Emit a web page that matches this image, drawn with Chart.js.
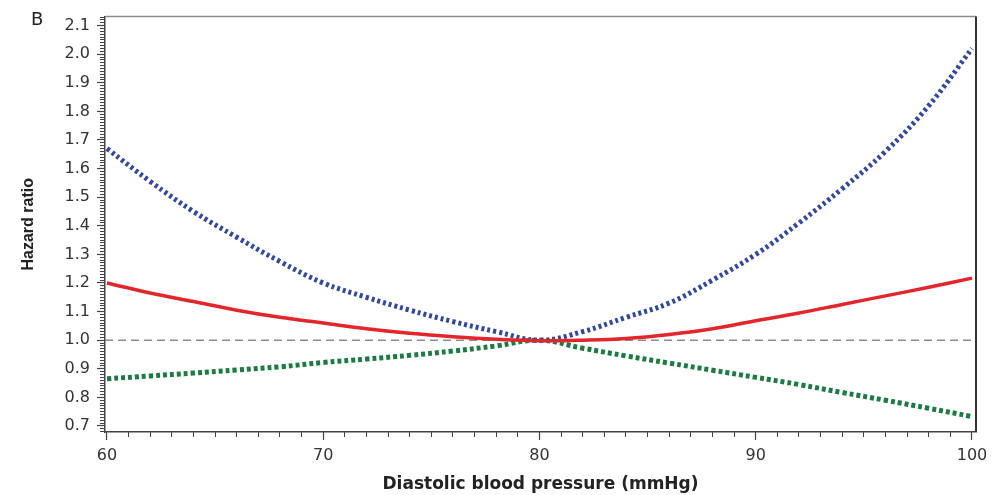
<!DOCTYPE html>
<html>
<head>
<meta charset="utf-8">
<script src="https://cdn.jsdelivr.net/npm/chart.js@4.4.1/dist/chart.umd.min.js"></script>
<style>
  html, body { margin: 0; padding: 0; background: #fff; }
  #wrap { width: 1005px; height: 495px; }
</style>
</head>
<body>
<div id="wrap"><canvas id="hr"></canvas></div>
<script>
// diastolic BP (mmHg) and hazard ratio curves
const bp       = [60, 62, 64, 66, 68, 70, 72, 74, 76, 78, 80, 82, 84, 86, 88, 90, 92, 94, 96, 98, 100];
const hazard   = [1.20, 1.165, 1.135, 1.105, 1.08, 1.06, 1.04, 1.024, 1.012, 1.003, 0.998, 1.0, 1.006, 1.02, 1.04, 1.068, 1.095, 1.125, 1.155, 1.185, 1.217];
const upperCI  = [1.67, 1.555, 1.45, 1.36, 1.275, 1.20, 1.15, 1.105, 1.065, 1.03, 1.0, 1.03, 1.08, 1.13, 1.21, 1.30, 1.41, 1.53, 1.66, 1.82, 2.02];
const lowerCI  = [0.865, 0.875, 0.885, 0.896, 0.907, 0.922, 0.934, 0.947, 0.962, 0.98, 1.0, 0.972, 0.945, 0.92, 0.895, 0.87, 0.845, 0.817, 0.79, 0.762, 0.733];
const refValue = 1.0;

const xTicks = [60, 70, 80, 90, 100];
const yTicks = [0.7, 0.8, 0.9, 1.0, 1.1, 1.2, 1.3, 1.4, 1.5, 1.6, 1.7, 1.8, 1.9, 2.0, 2.1];

const X_MIN = 59.908, X_MAX = 100.185;
const Y_MIN = 0.679, Y_MAX = 2.1314;

const xMinorTicks = [];
for (let v = 60; v <= 100; v++) xMinorTicks.push(v);
const yMinorTicks = [];
for (let i = 68; i <= 213; i++) yMinorTicks.push(i / 100);

const pts = vals => bp.map((x, i) => ({ x, y: vals[i] }));

const tickFont = { family: 'DejaVu Sans', size: 16 };
const axisColor = '#444';

// box round the plot and the panel letter
const framePlugin = {
    id: 'frame',
    afterDatasetsDraw(chart) {
        const { ctx, chartArea: a } = chart;
        ctx.save();
        ctx.lineWidth = 1.5;
        ctx.strokeStyle = '#8a8a8a';
        ctx.beginPath();
        ctx.moveTo(a.left, a.top);
        ctx.lineTo(a.right, a.top);
        ctx.stroke();
        ctx.strokeStyle = '#333';
        ctx.lineWidth = 2;
        ctx.beginPath();
        ctx.moveTo(a.right, a.top);
        ctx.lineTo(a.right, a.bottom);
        ctx.stroke();
        ctx.fillStyle = '#222';
        ctx.font = '18px "DejaVu Sans"';
        ctx.textBaseline = 'alphabetic';
        ctx.fillText('B', 31, 25);
        ctx.restore();
    }
};

const minorAxis = (ticks, pos) => ({
    type: 'linear',
    position: pos,
    min: pos === 'left' ? Y_MIN : X_MIN,
    max: pos === 'left' ? Y_MAX : X_MAX,
    weight: 0,
    afterBuildTicks: s => { s.ticks = ticks.map(value => ({ value })); },
    afterFit: s => { if (pos === 'left') s.width = 0; else s.height = 0; },
    border: { display: false },
    grid: { drawOnChartArea: false, drawTicks: true, tickLength: 5, tickColor: axisColor, tickWidth: 1 },
    ticks: { autoSkip: false, callback: () => '' }
});

new Chart(document.getElementById('hr'), {
    type: 'line',
    data: {
        datasets: [
            {
                label: 'Hazard ratio',
                data: pts(hazard),
                borderColor: '#e2262b',
                borderWidth: 3.5,
                tension: 0.4
            },
            {
                label: 'Upper 95% CI',
                data: pts(upperCI),
                borderColor: '#34489a',
                borderWidth: 5,
                borderDash: [3, 3],
                tension: 0.4
            },
            {
                label: 'Lower 95% CI',
                data: pts(lowerCI),
                borderColor: '#1e7a45',
                borderWidth: 5,
                borderDash: [4, 3],
                tension: 0.4
            },
            {
                label: 'Reference',
                data: [{ x: X_MIN, y: refValue }, { x: X_MAX, y: refValue }],
                borderColor: '#8c8c8c',
                borderWidth: 1.5,
                borderDash: [8, 5]
            }
        ]
    },
    options: {
        responsive: true,
        maintainAspectRatio: false,
        devicePixelRatio: 1,
        animation: false,
        layout: { padding: { top: 16, right: 29, left: 0, bottom: 0 } },
        elements: { point: { radius: 0, hoverRadius: 0 } },
        plugins: {
            legend: { display: false },
            tooltip: { enabled: false }
        },
        scales: {
            x: {
                type: 'linear',
                position: 'bottom',
                min: X_MIN,
                max: X_MAX,
                weight: 1,
                afterBuildTicks: s => { s.ticks = xTicks.map(value => ({ value })); },
                afterFit: s => { s.height = 63; },
                border: { color: axisColor, width: 1.5 },
                grid: { drawOnChartArea: false, tickLength: 8, tickColor: axisColor, tickWidth: 1.2 },
                ticks: { font: tickFont, color: '#333', padding: 6, autoSkip: false, maxRotation: 0 },
                title: {
                    display: true,
                    text: 'Diastolic blood pressure (mmHg)',
                    font: { family: 'DejaVu Sans', size: 17, weight: 'bold' },
                    color: '#222',
                    padding: { top: 0, bottom: 0 }
                }
            },
            xMinor: minorAxis(xMinorTicks, 'bottom'),
            y: {
                type: 'linear',
                position: 'left',
                min: Y_MIN,
                max: Y_MAX,
                weight: 1,
                afterBuildTicks: s => { s.ticks = yTicks.map(value => ({ value })); },
                afterFit: s => { s.width = 105; },
                border: { color: axisColor, width: 1.5 },
                grid: { drawOnChartArea: false, tickLength: 8, tickColor: axisColor, tickWidth: 1.2 },
                ticks: {
                    font: tickFont,
                    color: '#333',
                    padding: 7,
                    autoSkip: false,
                    callback: v => v.toFixed(1)
                },
                title: {
                    display: true,
                    text: 'Hazard ratio',
                    font: { family: "'Liberation Sans Narrow', 'Liberation Sans'", size: 16, weight: 'bold' },
                    color: '#222',
                    padding: { top: 19, bottom: 0 }
                }
            },
            yMinor: minorAxis(yMinorTicks, 'left')
        }
    },
    plugins: [framePlugin]
});
</script>
</body>
</html>
